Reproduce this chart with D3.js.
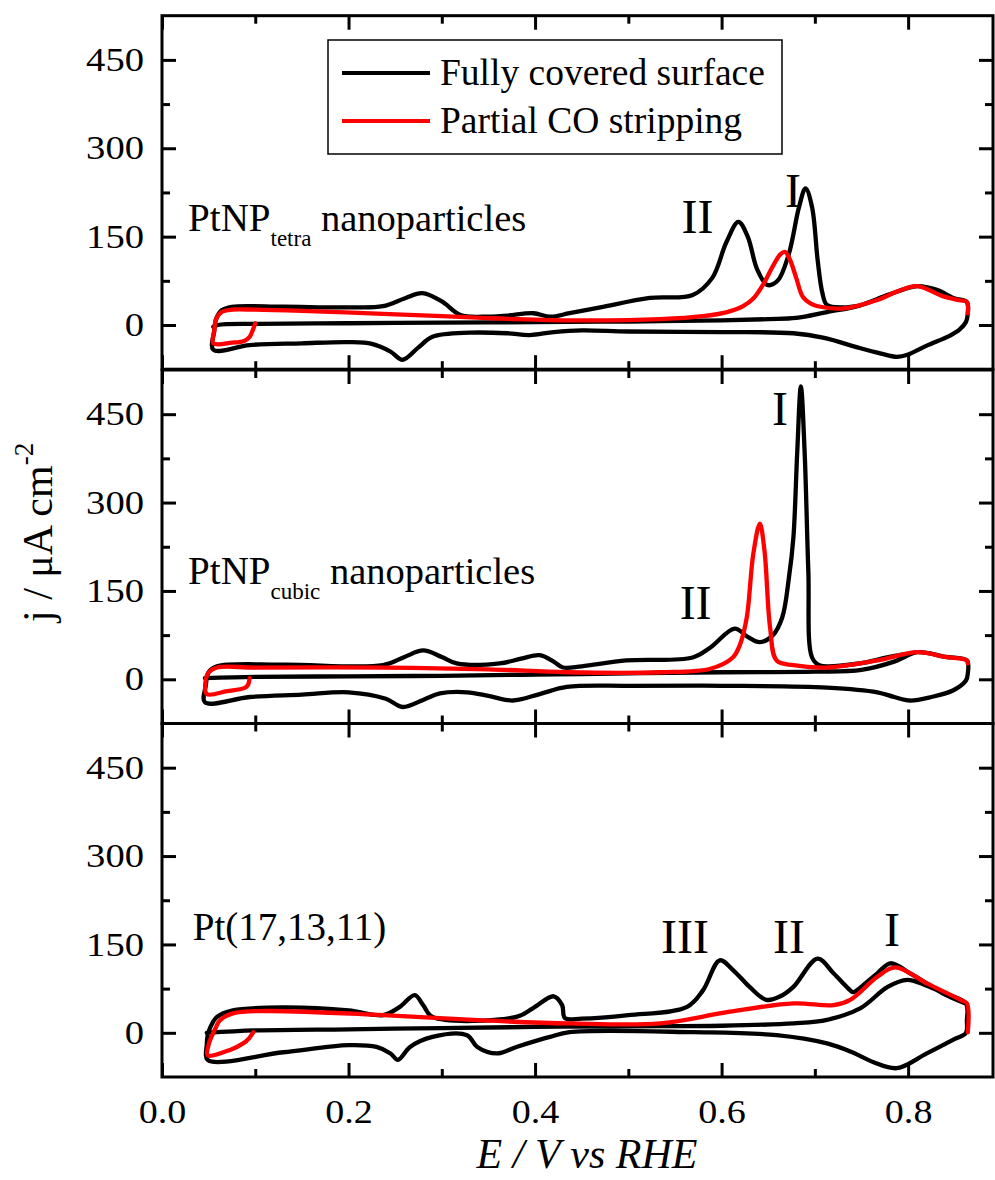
<!DOCTYPE html>
<html lang="en">
<head>
<meta charset="utf-8">
<title>CO stripping voltammograms</title>
<script src="https://cdn.jsdelivr.net/npm/d3@7/dist/d3.min.js"></script>
<style>
  body { margin: 0; background: #fff; }
  svg { display: block; font-family: "Liberation Serif", "Times New Roman", serif; }
</style>
</head>
<body>
<script>
// ---- data: [E (V vs RHE), j (uA cm-2)] in scan order ----
const tetraFull = [
  [0.055, -3], [0.06, 0], [0.1, 2], [0.2, 3], [0.3, 4], [0.4, 5], [0.5, 6], [0.6, 8], [0.65, 10], [0.68, 12],
  [0.713, 22], [0.748, 33], [0.78, 52], [0.81, 66], [0.83, 60], [0.85, 45], [0.863, 39], [0.864, 20], [0.862, 5],
  [0.855, -8], [0.845, -18], [0.82, -35], [0.80, -50], [0.788, -54], [0.77, -48], [0.748, -39], [0.71, -22],
  [0.677, -14], [0.6, -12], [0.5, -11], [0.45, -9], [0.42, -12], [0.394, -17], [0.37, -14], [0.33, -13],
  [0.29, -20], [0.275, -38], [0.258, -59], [0.245, -45], [0.225, -32], [0.2, -29], [0.15, -31], [0.094, -34],
  [0.055, -42], [0.056, -10], [0.058, 10], [0.064, 25], [0.075, 31], [0.13, 31], [0.2, 30], [0.237, 32],
  [0.26, 45], [0.279, 54], [0.30, 40], [0.32, 17], [0.344, 14], [0.37, 16], [0.398, 20], [0.416, 14],
  [0.437, 20], [0.47, 30], [0.523, 46], [0.569, 51], [0.59, 80], [0.605, 140], [0.618, 175], [0.628, 150],
  [0.638, 95], [0.649, 68], [0.66, 75], [0.672, 120], [0.683, 200], [0.690, 232], [0.697, 200], [0.703, 110],
  [0.708, 55], [0.713, 34], [0.73, 30], [0.748, 33]
];
const tetraPartial = [
  [0.1, 3], [0.097, -10], [0.094, -20], [0.088, -27], [0.075, -30], [0.055, -31], [0.056, -10], [0.058, 10],
  [0.064, 22], [0.075, 26], [0.1, 26], [0.15, 24], [0.237, 19], [0.3, 15], [0.344, 12], [0.437, 8], [0.534, 10],
  [0.58, 15], [0.606, 22], [0.623, 32], [0.634, 45], [0.645, 70], [0.655, 100], [0.663, 120], [0.668, 124],
  [0.673, 112], [0.68, 80], [0.687, 48], [0.696, 36], [0.706, 31], [0.73, 28], [0.766, 42], [0.79, 58],
  [0.81, 66], [0.837, 49], [0.855, 42], [0.863, 39], [0.864, 20]
];
const cubicFull = [
  [0.046, 2], [0.1, 4], [0.2, 5], [0.3, 6], [0.4, 8], [0.5, 10], [0.6, 12], [0.7, 13], [0.75, 16], [0.785, 30],
  [0.81, 46], [0.84, 38], [0.863, 32], [0.864, 10], [0.862, -2], [0.848, -19], [0.825, -30], [0.802, -36],
  [0.785, -30], [0.767, -22], [0.713, -14], [0.6, -11], [0.5, -11], [0.434, -13], [0.405, -25], [0.376, -36],
  [0.35, -28], [0.327, -22], [0.298, -24], [0.28, -35], [0.258, -47], [0.24, -33], [0.2, -22], [0.15, -26],
  [0.094, -30], [0.046, -39], [0.047, -10], [0.05, 12], [0.059, 22], [0.13, 25], [0.237, 24], [0.26, 38],
  [0.28, 49], [0.30, 38], [0.316, 27], [0.362, 27], [0.385, 35], [0.405, 41], [0.42, 30], [0.43, 20],
  [0.45, 22], [0.498, 32], [0.569, 37], [0.588, 54], [0.614, 86], [0.628, 72], [0.641, 63], [0.655, 75],
  [0.665, 105], [0.672, 170], [0.677, 241], [0.681, 382], [0.685, 497], [0.689, 387], [0.693, 184],
  [0.697, 37], [0.705, 24], [0.748, 27], [0.78, 38], [0.81, 46]
];
const cubicPartial = [
  [0.094, 2], [0.092, -10], [0.088, -15], [0.07, -20], [0.048, -25], [0.047, 0], [0.05, 12], [0.059, 20],
  [0.1, 20], [0.237, 20], [0.35, 17], [0.434, 12], [0.534, 12], [0.588, 18], [0.612, 37], [0.62, 60],
  [0.627, 105], [0.634, 213], [0.641, 264], [0.646, 218], [0.652, 88], [0.659, 32], [0.677, 24], [0.713, 20],
  [0.767, 32], [0.81, 46], [0.84, 38], [0.863, 32], [0.864, 27]
];
const stepFull = [
  [0.048, 0], [0.1, 4], [0.2, 6], [0.3, 8], [0.4, 10], [0.5, 11], [0.6, 12], [0.677, 16], [0.713, 22],
  [0.749, 42], [0.778, 78], [0.799, 90], [0.82, 80], [0.84, 66], [0.862, 50], [0.863, 20], [0.862, 0],
  [0.848, -12], [0.82, -35], [0.788, -60], [0.763, -50], [0.74, -33], [0.713, -18], [0.659, -4], [0.57, 1],
  [0.437, 1], [0.416, -7], [0.38, -24], [0.359, -35], [0.338, -24], [0.327, -4], [0.29, -7], [0.266, -24],
  [0.253, -46], [0.245, -35], [0.23, -24], [0.2, -21], [0.13, -33], [0.049, -46], [0.048, -20], [0.049, -4],
  [0.052, 10], [0.059, 27], [0.076, 38], [0.13, 43], [0.2, 38], [0.237, 30], [0.255, 44], [0.271, 64],
  [0.28, 47], [0.29, 27], [0.38, 27], [0.398, 42], [0.42, 62], [0.429, 47], [0.432, 25], [0.45, 24],
  [0.5, 30], [0.563, 44], [0.58, 72], [0.598, 123], [0.612, 107], [0.63, 78], [0.648, 56], [0.663, 62],
  [0.677, 78], [0.703, 126], [0.72, 101], [0.738, 72], [0.741, 69], [0.755, 85], [0.767, 101], [0.781, 118],
  [0.802, 101], [0.82, 84], [0.837, 67], [0.861, 50]
];
const stepPartial = [
  [0.098, 1], [0.093, -10], [0.087, -18], [0.073, -29], [0.049, -38], [0.05, -20], [0.053, -7], [0.058, 10],
  [0.062, 21], [0.076, 33], [0.112, 37], [0.237, 30], [0.344, 21], [0.437, 16], [0.534, 16], [0.606, 35],
  [0.677, 50], [0.72, 47], [0.738, 56], [0.767, 95], [0.786, 111], [0.82, 84], [0.856, 56], [0.863, 50],
  [0.864, 1]
];

const xMajor = [0, 0.2, 0.4, 0.6, 0.8];
const xMinor = [0.1, 0.3, 0.5, 0.7];
const yMajor = [0, 150, 300, 450];
const yMinor = [75, 225, 375];
const seriesNames = ["Fully covered surface", "Partial CO stripping"];
const seriesColors = ["#000000", "#ff0000"];

// panel labels: [main, subscript, rest]
const panelLabels = [["PtNP", "tetra", " nanoparticles"], ["PtNP", "cubic", " nanoparticles"], ["Pt(17,13,11)", "", ""]];
// peak labels per panel: [text, E, j]
const peakLabels = [
  [["II", 0.557, 156], ["I", 0.668, 200]],
  [["I", 0.654, 431], ["II", 0.555, 103]],
  [["III", 0.535, 135], ["II", 0.655, 135], ["I", 0.774, 147]]
];

const W = 995, H = 1180;
const left = 162, right = 993;
const tops = [15.7, 370, 723.5];
const ph = 353.5;

const svg = d3.select("body").append("svg").attr("width", W).attr("height", H);

const x = d3.scaleLinear().domain([0, 0.891]).range([left, right]);

function stretch(sel, k) {
  sel.each(function() {
    const w = this.getComputedTextLength();
    d3.select(this).attr("textLength", w * k).attr("lengthAdjust", "spacingAndGlyphs");
  });
}

const panels = [[tetraFull, tetraPartial], [cubicFull, cubicPartial], [stepFull, stepPartial]];

panels.forEach(function(curves, i) {
  const top = tops[i];
  const y = d3.scaleLinear().domain([-75, 525]).range([top + ph, top]);
  const g = svg.append("g");

  const line = d3.line()
    .x(d => x(d[0]))
    .y(d => y(d[1]))
    .curve(d3.curveCatmullRom.alpha(0.5));

  curves.forEach(function(c, k) {
    g.append("path")
      .attr("d", line(c))
      .attr("fill", "none")
      .attr("stroke", seriesColors[k])
      .attr("stroke-width", 4.3)
      .attr("stroke-linejoin", "round")
      .attr("stroke-linecap", "round");
  });

  // axes with inward ticks
  function addAxis(axis, tx, ty, size, labels) {
    const a = g.append("g").attr("transform", `translate(${tx},${ty})`)
      .call(axis.tickSize(-size).tickPadding(18));
    a.select(".domain").remove();
    a.selectAll("line").attr("stroke", "#000").attr("stroke-width", 3);
    if (!labels) a.selectAll("text").remove();
    return a;
  }
  const yl = addAxis(d3.axisLeft(y).tickValues(yMajor).tickFormat(d3.format("d")), left, 0, 14, true);
  yl.selectAll("text").attr("font-size", 33).attr("fill", "#000").attr("font-family", "Liberation Serif").call(stretch, 1.17);
  addAxis(d3.axisLeft(y).tickValues(yMinor), left, 0, 8, false);
  addAxis(d3.axisRight(y).tickValues(yMajor), right, 0, 14, false);
  addAxis(d3.axisRight(y).tickValues(yMinor), right, 0, 8, false);
  addAxis(d3.axisTop(x).tickValues(xMajor), 0, top, 14, false);
  addAxis(d3.axisTop(x).tickValues(xMinor), 0, top, 8, false);
  const xb = addAxis(d3.axisBottom(x).tickValues(xMajor).tickFormat(d3.format(".1f")), 0, top + ph, 14, i === 2);
  addAxis(d3.axisBottom(x).tickValues(xMinor), 0, top + ph, 8, false);
  if (i === 2) {
    xb.selectAll("text").attr("font-size", 34).attr("fill", "#000").attr("font-family", "Liberation Serif")
      .attr("y", 46).attr("dy", 0).call(stretch, 1.12);
  }

  // frame
  g.append("rect")
    .attr("x", left).attr("y", top).attr("width", right - left).attr("height", ph)
    .attr("fill", "none").attr("stroke", "#000").attr("stroke-width", 3);

  // panel label
  const pl = panelLabels[i];
  const t = g.append("text")
    .attr("x", x(i === 2 ? 0.033 : 0.028)).attr("y", y(i === 0 ? 159 : (i === 1 ? 162 : 157)))
    .attr("font-size", 39).attr("fill", "#000");
  t.append("tspan").text(pl[0]);
  if (pl[1]) {
    t.append("tspan").attr("font-size", 23).attr("dy", 15).text(pl[1]);
    t.append("tspan").attr("dy", -15).attr("font-size", 38.5).text(pl[2]).style("white-space", "pre");
  }

  peakLabels[i].forEach(function(p) {
    g.append("text").attr("x", x(p[1])).attr("y", y(p[2]))
      .attr("font-size", 48).attr("fill", "#000").text(p[0]);
  });
});

// legend (top panel)
const lg = svg.append("g");
lg.append("rect").attr("x", 328).attr("y", 40).attr("width", 454).attr("height", 114)
  .attr("fill", "#fff").attr("stroke", "#000").attr("stroke-width", 1.5);
seriesNames.forEach(function(n, k) {
  const yy = 73 + k * 48;
  lg.append("line").attr("x1", 342).attr("x2", 430).attr("y1", yy).attr("y2", yy)
    .attr("stroke", seriesColors[k]).attr("stroke-width", 4);
  lg.append("text").attr("x", 440).attr("y", yy + 12).attr("font-size", 37.5).attr("fill", "#000").text(n);
});

// axis titles
svg.append("text")
  .attr("x", 587).attr("y", 1168)
  .attr("text-anchor", "middle").attr("font-size", 42).attr("font-style", "italic")
  .text("E / V vs RHE");

const yt = svg.append("text")
  .attr("transform", "translate(52,622) rotate(-90)")
  .attr("font-size", 42);
yt.append("tspan").text("j / \u03bcA cm");
yt.append("tspan").attr("font-size", 27).attr("dy", -19).text("-2");
</script>
</body>
</html>
